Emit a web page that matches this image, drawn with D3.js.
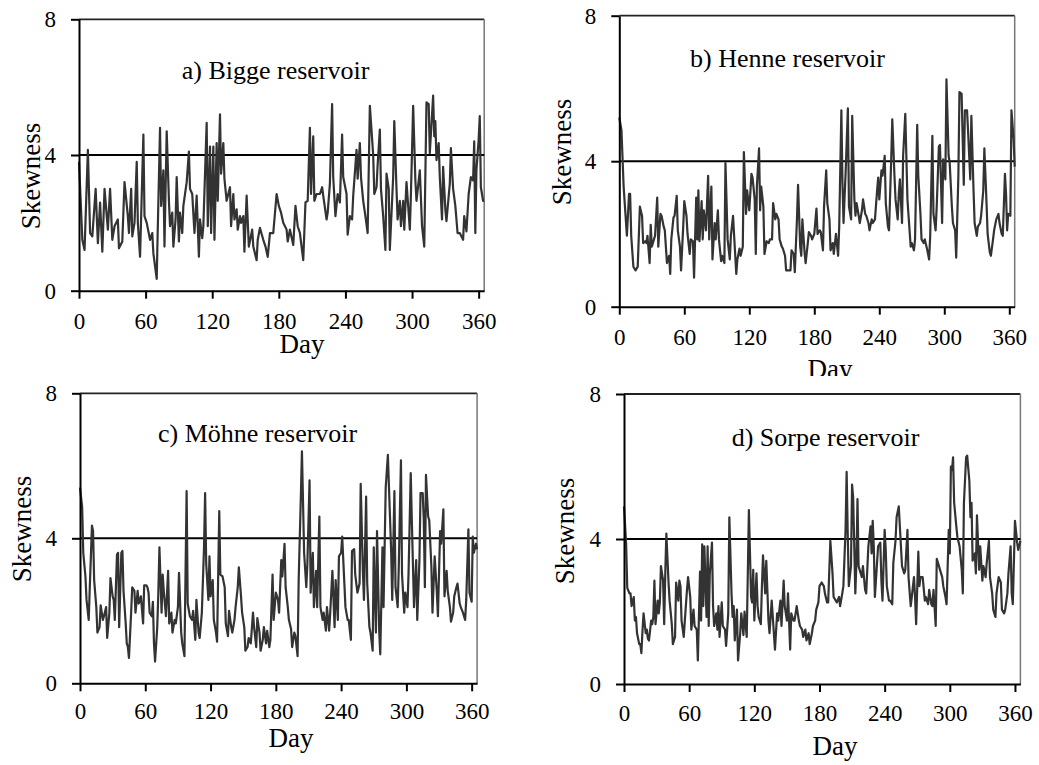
<!DOCTYPE html>
<html lang="en">
<head>
<meta charset="UTF-8">
<title>Skewness of daily values - four reservoirs</title>
<script src="https://d3js.org/d3.v7.min.js"></script>
<style>
    body { margin: 0; background: #fff; }
    svg { display: block; font-family: "Liberation Serif", "Times New Roman", serif; }
    .axis path, .axis line { stroke: #000; stroke-width: 2px; }
    .series { fill: none; stroke: #333; stroke-width: 2.2px; stroke-linejoin: round; }
</style>
</head>
<body>
<div id="chart"></div>
<script>
// tick values and labels
const xTicks = [0, 60, 120, 180, 240, 300, 360];
const yTicks = [0, 4, 8];
const titles = ["a) Bigge reservoir", "b) Henne reservoir", "c) Möhne reservoir", "d) Sorpe reservoir"];
const threshold = 4;

// [day, skewness]
const bigge = [[0,3.8],[3,1.5],[5,1.2],[8,4.15],[10,1.7],[12,1.6],[15,3.0],[17,1.4],[19,2.6],[21,1.15],[23,3.0],[26,1.8],[28,3.0],[30,1.5],[32,1.9],[35,2.1],[36,1.25],[39,1.45],[41,3.2],[44,2.2],[45,1.7],[47,3.0],[48,1.6],[50,2.0],[52,3.8],[53,2.0],[55,1.0],[58,4.6],[59,2.2],[61,2.0],[64,1.5],[66,1.7],[67,1.1],[70,0.35],[71,1.9],[73,4.8],[74,2.5],[76,3.55],[77,1.3],[79,4.7],[81,2.65],[82,1.9],[84,2.3],[85,1.3],[87,2.1],[88,3.35],[90,1.45],[91,2.3],[93,1.7],[94,2.5],[97,3.2],[99,4.1],[100,3.0],[102,2.85],[104,1.7],[106,2.8],[108,1.0],[109,2.1],[111,1.55],[112,1.9],[115,4.95],[116,1.9],[118,4.25],[119,1.7],[121,4.25],[122,1.5],[124,4.35],[125,2.65],[127,5.2],[128,3.45],[130,4.35],[131,3.3],[133,2.65],[136,3.05],[137,1.9],[139,2.85],[140,2.1],[142,2.4],[143,1.8],[145,2.2],[146,2.0],[148,2.2],[149,1.15],[151,2.8],[153,1.3],[156,1.8],[157,1.3],[160,0.9],[161,1.5],[163,1.85],[166,1.5],[168,1.3],[170,1.0],[172,1.7],[175,1.7],[178,2.85],[180,2.5],[182,2.3],[184,2.0],[187,1.8],[188,1.45],[190,1.8],[193,1.35],[195,2.5],[197,1.9],[199,1.7],[202,0.9],[204,2.6],[206,2.65],[208,4.8],[209,2.85],[211,4.55],[212,2.65],[214,2.85],[217,2.85],[219,3.05],[220,2.8],[223,2.1],[224,2.3],[226,3.15],[228,5.5],[229,3.35],[231,2.2],[233,2.85],[235,2.6],[237,4.6],[238,3.35],[241,2.85],[242,1.65],[244,2.2],[246,2.1],[247,2.8],[250,4.15],[251,3.3],[253,4.35],[254,3.35],[256,2.65],[258,2.2],[260,1.7],[262,5.45],[265,4.0],[266,2.85],[268,3.05],[269,3.7],[271,4.75],[272,3.0],[274,2.2],[276,1.2],[277,3.45],[279,3.0],[280,1.2],[283,3.35],[284,5.0],[286,3.0],[287,2.1],[289,2.65],[290,1.9],[292,2.65],[293,1.8],[295,3.2],[298,1.8],[299,2.85],[301,5.45],[303,3.25],[304,2.65],[307,3.55],[309,1.9],[311,1.3],[313,5.55],[315,5.5],[316,4.05],[319,5.75],[320,4.55],[321,5.0],[322,3.85],[324,4.35],[325,3.35],[327,2.1],[328,3.65],[330,2.4],[331,2.05],[334,3.15],[335,4.2],[337,3.0],[339,2.5],[341,1.7],[343,1.7],[346,1.5],[347,2.2],[349,1.75],[351,2.85],[353,3.35],[355,3.25],[356,4.4],[357,1.7],[358,3.55],[360,4.45],[361,5.15],[362,3.05],[364,2.65],[365,2.65]];

const henne = [[0,5.2],[2,4.85],[4,3.3],[6,2.4],[7,1.95],[9,3.1],[10,3.1],[11,1.95],[13,1.1],[15,1.0],[17,1.1],[19,2.75],[21,2.5],[22,1.75],[24,1.8],[25,1.75],[26,1.95],[28,1.2],[29,2.25],[30,1.65],[32,1.85],[33,1.95],[35,3.0],[36,1.65],[38,2.55],[39,2.5],[41,2.2],[42,2.1],[44,1.2],[46,1.4],[47,0.9],[48,1.85],[50,2.45],[51,2.5],[53,3.05],[54,2.1],[56,1.65],[57,1.0],[59,2.2],[60,2.9],[62,2.5],[63,2.0],[65,1.45],[66,1.85],[68,1.8],[69,0.8],[71,3.0],[72,1.85],[73,3.2],[74,1.8],[76,2.9],[77,1.85],[78,2.65],[80,2.1],[82,3.6],[83,1.85],[85,3.3],[86,1.3],[88,2.3],[89,1.85],[91,2.65],[92,1.85],[94,1.25],[95,1.4],[97,1.2],[98,3.95],[100,1.85],[102,1.3],[103,1.95],[105,2.5],[106,1.95],[108,0.9],[109,1.3],[111,1.6],[112,1.4],[114,1.65],[115,4.25],[117,2.55],[118,3.2],[120,2.65],[122,3.65],[123,3.55],[125,2.95],[126,1.45],[127,3.3],[129,4.35],[130,2.65],[131,3.3],[133,2.75],[134,1.45],[136,1.8],[138,1.75],[139,1.85],[141,1.85],[142,2.85],[144,2.4],[145,2.55],[147,2.4],[148,1.85],[150,1.65],[151,1.6],[153,1.4],[154,1.0],[156,1.0],[158,1.0],[159,1.55],[161,1.45],[162,0.95],[164,2.4],[165,3.35],[167,1.65],[168,1.4],[169,2.4],[171,1.5],[172,1.2],[174,1.75],[175,2.05],[177,1.95],[178,1.85],[180,2.0],[182,2.7],[183,2.0],[185,2.1],[186,2.05],[188,1.55],[189,2.75],[191,3.75],[192,2.85],[194,2.4],[195,1.55],[197,1.75],[198,1.45],[200,2.0],[202,1.4],[203,2.2],[205,5.4],[206,3.4],[207,2.3],[209,3.75],[211,5.45],[212,2.75],[214,2.4],[215,5.25],[217,2.95],[218,2.5],[219,2.85],[221,2.5],[222,2.3],[224,2.65],[225,2.95],[227,2.55],[228,2.5],[230,2.3],[231,2.1],[233,2.4],[234,2.3],[236,2.4],[238,3.2],[239,3.55],[240,2.95],[242,3.75],[243,3.6],[245,4.15],[246,2.85],[248,2.2],[249,2.1],[251,4.05],[252,5.15],[254,3.6],[255,2.95],[257,2.4],[258,3.1],[259,3.5],[261,2.3],[262,4.15],[264,5.3],[266,2.95],[267,2.5],[269,1.65],[270,1.75],[272,1.55],[273,1.85],[275,5.0],[276,3.6],[278,2.55],[279,1.85],[281,1.75],[282,1.85],[284,1.6],[286,1.3],[287,1.95],[289,4.7],[290,2.55],[292,2.1],[293,2.75],[295,4.4],[296,4.45],[298,2.3],[299,4.05],[301,3.5],[302,6.25],[304,4.15],[305,3.95],[307,2.75],[308,2.3],[310,2.1],[311,1.35],[313,3.6],[314,5.9],[316,5.85],[318,3.35],[319,5.4],[321,5.4],[322,4.8],[324,3.5],[325,5.25],[327,3.2],[328,2.3],[330,1.95],[331,2.2],[333,2.3],[334,2.5],[336,3.2],[337,4.35],[339,2.85],[340,2.0],[342,1.5],[343,1.4],[345,1.85],[346,2.1],[348,2.4],[350,2.55],[351,2.3],[353,2.0],[354,1.95],[356,3.65],[357,3.1],[358,2.1],[359,2.55],[361,2.5],[362,5.4],[364,4.6],[365,3.85]];

const moehne = [[0,5.4],[2,4.85],[3,3.6],[5,2.95],[6,2.3],[8,1.75],[9,2.65],[11,4.35],[12,4.2],[13,2.85],[15,2.1],[16,1.4],[18,1.55],[19,2.15],[21,1.75],[22,1.85],[24,2.1],[25,1.25],[27,1.95],[28,2.9],[30,2.4],[31,2.3],[32,1.75],[34,3.55],[35,3.6],[36,1.55],[38,3.6],[39,3.65],[40,2.55],[42,1.65],[43,1.1],[44,1.0],[45,0.7],[47,1.95],[48,2.65],[50,2.55],[51,1.95],[53,2.55],[54,2.2],[56,2.4],[58,1.65],[59,2.7],[61,2.7],[62,2.65],[63,2.5],[64,1.95],[66,1.85],[67,2.25],[68,1.1],[69,0.6],[71,1.55],[72,2.5],[73,3.75],[75,1.95],[76,3.0],[77,2.55],[79,1.85],[81,3.1],[82,1.65],[84,1.95],[85,1.4],[87,1.75],[88,1.65],[90,2.1],[91,3.05],[93,1.4],[94,1.1],[96,0.75],[98,5.3],[99,2.2],[101,1.85],[103,1.75],[104,2.0],[106,1.2],[107,2.3],[109,1.4],[110,1.25],[112,1.95],[114,3.75],[115,5.25],[116,3.3],[118,2.3],[119,3.5],[120,2.4],[122,2.85],[123,1.75],[125,1.4],[126,1.15],[128,4.75],[129,3.0],[131,2.95],[133,2.65],[134,1.65],[136,1.3],[137,2.0],[139,1.55],[140,1.4],[142,1.75],[143,2.1],[145,2.65],[146,3.2],[148,2.4],[149,1.95],[151,1.55],[152,0.9],[154,1.0],[155,1.25],[157,1.1],[159,1.95],[160,1.55],[162,1.0],[163,1.8],[165,1.4],[166,0.9],[168,1.2],[169,1.55],[171,1.1],[172,1.45],[174,1.0],[175,1.2],[177,3.0],[178,1.75],[180,2.5],[182,2.3],[183,1.95],[185,3.4],[186,2.95],[188,3.85],[189,2.65],[191,2.1],[192,1.75],[194,1.5],[195,1.0],[197,1.4],[198,1.3],[200,0.75],[201,2.85],[203,5.15],[204,6.4],[206,3.6],[208,2.65],[209,3.3],[211,5.6],[212,2.5],[214,3.6],[215,2.1],[217,3.1],[218,2.1],[220,4.6],[221,2.1],[223,1.75],[224,1.95],[226,1.45],[227,2.1],[229,1.45],[230,1.95],[232,3.1],[234,1.55],[235,2.85],[237,1.75],[238,3.5],[240,3.6],[241,4.05],[243,2.75],[244,2.1],[246,1.75],[247,1.75],[249,1.2],[250,3.65],[252,3.7],[253,3.0],[255,2.5],[257,2.75],[258,5.5],[260,3.1],[261,2.3],[263,5.15],[264,2.75],[266,1.55],[267,1.4],[269,0.9],[270,3.75],[272,1.4],[273,4.2],[275,1.45],[276,0.8],[278,3.75],[279,2.1],[281,5.4],[283,6.3],[284,5.4],[286,3.65],[287,2.3],[289,5.3],[290,2.65],[292,2.1],[293,3.2],[295,6.15],[296,3.0],[298,1.95],[299,2.5],[301,2.1],[302,3.05],[304,5.8],[305,4.5],[307,2.1],[309,3.4],[310,1.75],[312,3.4],[313,5.25],[315,5.25],[316,4.5],[317,2.65],[318,5.75],[320,4.6],[321,4.5],[323,3.2],[324,1.95],[326,3.5],[328,2.5],[329,1.85],[331,4.2],[332,3.85],[334,4.8],[335,2.4],[337,3.1],[338,2.55],[340,2.1],[341,1.7],[343,1.95],[344,2.4],[346,2.65],[347,2.75],[349,2.2],[350,2.1],[352,1.95],[354,1.75],[355,2.3],[357,4.25],[358,2.5],[360,2.25],[361,4.05],[362,3.6],[364,3.85],[365,3.7]];

const sorpe = [[0,4.9],[2,3.85],[3,2.65],[5,2.5],[6,2.5],[7,2.15],[9,2.4],[10,1.75],[11,1.85],[12,1.4],[14,1.1],[15,1.1],[16,0.85],[17,1.45],[18,1.95],[20,1.4],[21,1.5],[22,1.25],[23,1.2],[25,1.75],[26,1.65],[27,1.85],[28,2.85],[29,1.65],[31,2.3],[32,1.95],[33,2.25],[34,3.25],[36,2.85],[37,1.65],[38,3.05],[39,4.15],[41,2.8],[42,2.3],[44,1.65],[45,1.1],[47,1.3],[48,2.8],[50,2.3],[51,2.85],[52,2.7],[53,1.75],[55,1.3],[56,1.75],[58,2.6],[59,2.95],[61,2.4],[62,1.5],[64,2.05],[65,1.6],[67,1.5],[68,0.65],[70,3.1],[71,1.75],[72,3.85],[73,2.15],[74,3.8],[76,1.85],[77,3.8],[78,1.6],[79,3.05],[81,3.9],[82,2.15],[83,1.6],[85,1.95],[86,1.5],[87,2.15],[88,1.3],[90,2.25],[91,1.6],[93,1.5],[94,1.05],[96,1.95],[97,4.6],[99,2.5],[100,1.85],[101,2.15],[102,1.2],[104,2.05],[105,0.65],[107,1.4],[108,1.95],[110,1.35],[111,2.0],[113,1.3],[115,4.8],[117,2.4],[118,2.25],[119,3.15],[120,1.75],[122,3.05],[123,2.15],[124,1.85],[126,1.65],[127,2.7],[128,3.55],[130,2.5],[131,3.4],[132,2.6],[133,1.75],[134,1.4],[136,2.3],[138,1.4],[139,0.95],[141,1.95],[142,1.75],[144,2.3],[145,1.6],[147,2.85],[148,2.15],[150,1.75],[151,2.5],[153,0.95],[154,1.95],[156,1.75],[157,1.75],[159,2.15],[161,1.75],[162,1.6],[164,1.5],[165,1.3],[167,1.5],[168,1.2],[170,1.4],[171,1.1],[173,1.4],[174,1.6],[176,1.75],[177,2.05],[179,2.25],[180,2.7],[182,2.8],[184,2.7],[185,2.5],[187,2.25],[188,2.25],[190,3.95],[192,3.05],[193,2.4],[195,2.3],[196,2.25],[198,2.4],[199,2.15],[201,2.5],[202,2.7],[204,4.25],[205,5.85],[206,4.15],[207,2.7],[209,3.25],[210,5.5],[211,5.15],[213,2.5],[214,3.35],[215,5.1],[216,3.25],[217,3.15],[219,2.95],[220,3.25],[222,2.6],[223,2.5],[225,3.8],[227,4.35],[228,3.6],[229,4.5],[230,3.8],[231,2.4],[233,3.35],[234,3.8],[236,3.9],[237,2.85],[238,2.3],[240,4.25],[241,3.7],[242,2.7],[244,2.3],[245,2.3],[247,2.2],[248,3.35],[250,3.95],[251,4.6],[253,4.9],[254,4.35],[256,3.25],[258,3.05],[259,3.15],[261,4.25],[262,2.95],[264,2.15],[265,2.4],[267,2.95],[268,2.4],[269,1.65],[271,3.65],[272,2.7],[273,2.95],[275,2.95],[277,2.3],[278,2.4],[280,2.2],[281,2.6],[283,2.2],[284,2.15],[285,2.6],[287,1.6],[288,3.45],[290,3.25],[291,3.15],[293,2.95],[294,2.7],[296,2.4],[297,2.2],[299,4.25],[300,3.6],[301,6.0],[302,5.9],[303,6.25],[304,5.0],[306,4.35],[307,4.05],[309,3.8],[311,3.15],[312,2.5],[313,5.0],[315,6.25],[316,6.3],[318,5.6],[319,4.6],[320,5.0],[321,3.4],[323,3.6],[324,3.05],[325,4.65],[327,3.15],[328,3.8],[330,2.85],[331,3.25],[333,2.95],[334,3.35],[336,3.95],[337,2.95],[339,2.5],[340,2.05],[342,1.85],[343,2.5],[345,2.95],[347,2.8],[348,2.05],[350,1.95],[351,2.05],[353,2.5],[354,3.05],[356,3.8],[357,2.5],[358,2.2],[360,4.5],[362,3.9],[363,3.7],[365,3.95]];

const width = 1039, height = 765;
const serif = '"Liberation Serif", "Times New Roman", serif';

// where each small chart sits on the page
const layout = [
    { data: bigge,  title: titles[0], left: 79,    right: 484.2,  top: 19.3,  bottom: 290.7, pad: 14, tx: 181.7, ty: 79,  lx: 40,  ly: 176, dx: 302, dy: 353 },
    { data: henne,  title: titles[1], left: 619.3, right: 1014.7, top: 15.7,  bottom: 306.7, pad: 14, tx: 690,   ty: 67,  lx: 571, ly: 152, dx: 830, dy: 378 },
    { data: moehne, title: titles[2], left: 80,    right: 477.1,  top: 393.3, bottom: 683.3, pad: 11, tx: 158,   ty: 442, lx: 31,  ly: 529, dx: 291, dy: 747 },
    { data: sorpe,  title: titles[3], left: 624,   right: 1020.4, top: 394,   bottom: 684,   pad: 13, tx: 731.7, ty: 446, lx: 574, ly: 531, dx: 835, dy: 755 }
];

const svg = d3.select("#chart").append("svg")
    .attr("width", width)
    .attr("height", height);

svg.append("rect").attr("width", width).attr("height", height).attr("fill", "#fff");

function drawPanel(p) {
    const g = svg.append("g");

    const x = d3.scaleLinear().domain([0, 365]).range([p.left, p.right]);
    const y = d3.scaleLinear().domain([0, 8]).range([p.bottom, p.top]);

    // frame: top (dark) and right (grey)
    g.append("line")
        .attr("x1", p.left).attr("x2", p.right)
        .attr("y1", y(8)).attr("y2", y(8))
        .attr("stroke", "#222").attr("stroke-width", 1.8);
    g.append("line")
        .attr("x1", p.right).attr("x2", p.right)
        .attr("y1", p.top).attr("y2", p.bottom)
        .attr("stroke", "#777").attr("stroke-width", 1.5);

    // reference line at skewness = 4
    g.append("line")
        .attr("x1", p.left).attr("x2", p.right)
        .attr("y1", y(threshold)).attr("y2", y(threshold))
        .attr("stroke", "#000").attr("stroke-width", 2);

    const line = d3.line()
        .x(d => x(d[0]))
        .y(d => y(d[1]));

    g.append("path")
        .datum(p.data)
        .attr("class", "series")
        .attr("d", line);

    const xAxis = g.append("g")
        .attr("class", "axis")
        .attr("transform", `translate(0,${p.bottom})`)
        .call(d3.axisBottom(x).tickValues(xTicks).tickSize(8).tickSizeOuter(0).tickPadding(p.pad));

    const yAxis = g.append("g")
        .attr("class", "axis")
        .attr("transform", `translate(${p.left},0)`)
        .call(d3.axisLeft(y).tickValues(yTicks).tickSize(8).tickSizeOuter(0).tickPadding(15));

    [xAxis, yAxis].forEach(a => a.selectAll("text")
        .style("font-family", serif)
        .style("font-size", "23px")
        .style("fill", "#000"));

    g.append("text")
        .attr("x", p.tx).attr("y", p.ty)
        .style("font-size", "26px")
        .text(p.title);

    g.append("text")
        .attr("transform", `translate(${p.lx},${p.ly}) rotate(-90)`)
        .attr("text-anchor", "middle")
        .style("font-size", "27px")
        .text("Skewness");

    g.append("text")
        .attr("x", p.dx).attr("y", p.dy)
        .attr("text-anchor", "middle")
        .style("font-size", "27px")
        .text("Day");
}

drawPanel(layout[0]);
drawPanel(layout[1]);

// the lower figures sit on a white sheet that hides the bottom of the upper "Day"
svg.append("rect")
    .attr("x", 0).attr("y", 376)
    .attr("width", width).attr("height", height - 376)
    .attr("fill", "#fff");

drawPanel(layout[2]);
drawPanel(layout[3]);
</script>
</body>
</html>
